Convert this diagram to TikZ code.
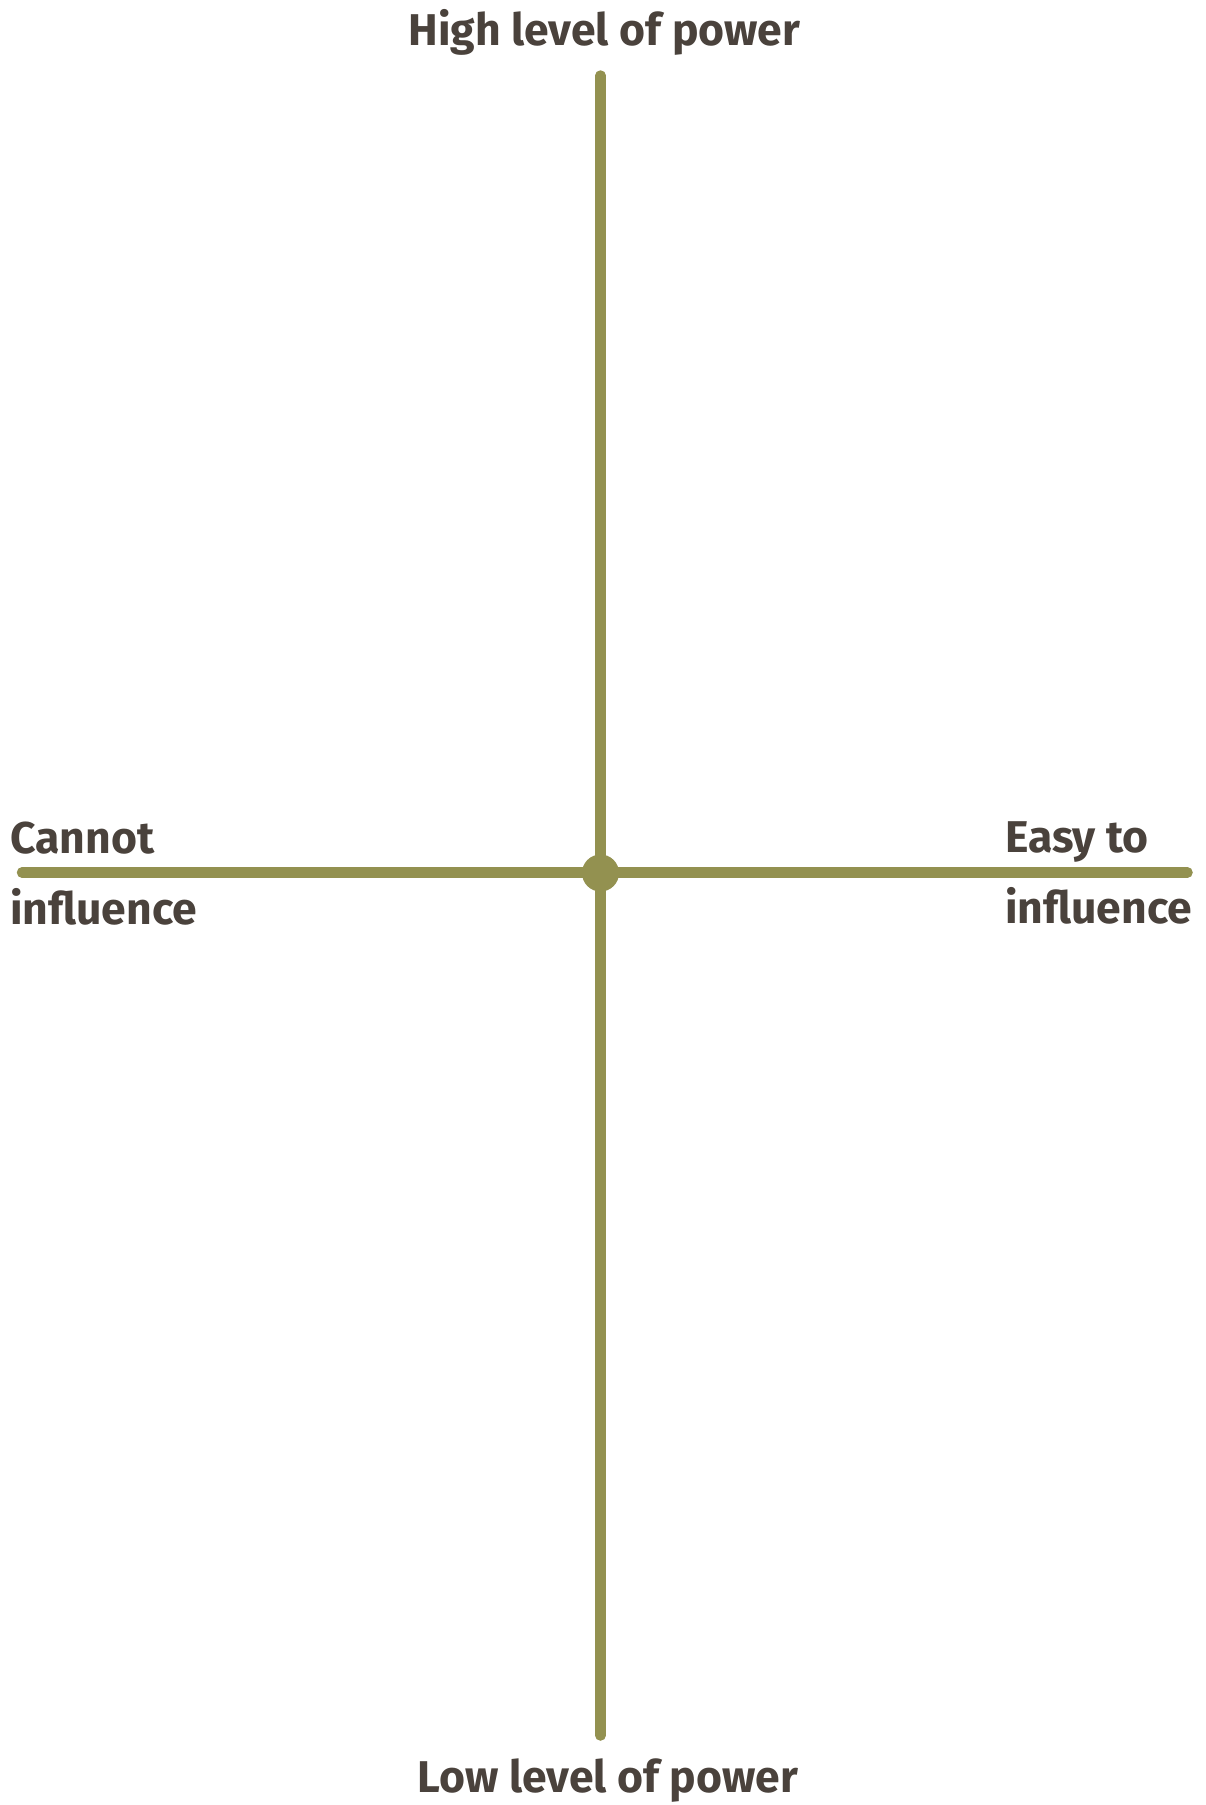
\documentclass[tikz,border=0pt]{standalone}
\usepackage{fontspec}
\setmainfont{Fira Sans}
\definecolor{olive}{HTML}{939150}
\definecolor{ink}{HTML}{4A423C}
\begin{document}
\begin{tikzpicture}[x=1pt,y=-1pt,
  axis/.style={draw=olive,line width=10.5pt,line cap=round},
  lbl/.style={inner sep=0pt,anchor=base west,text=ink,font=\fontsize{44.5}{50}\selectfont\bfseries}]
\useasboundingbox (0,0) rectangle (1206,1805);
\coordinate (top) at (600.5,75.5);
\coordinate (bottom) at (600.5,1735.5);
\coordinate (left) at (22,872.5);
\coordinate (right) at (1187.5,872.5);
\draw[axis] (top) -- (bottom);
\draw[axis] (left) -- (right);
\node[circle,fill=olive,minimum size=37pt,inner sep=0pt] (center) at (600.5,873) {};
\node[lbl,anchor=base] (high) at (604.5,45) {High level of power};
\node[lbl,anchor=base] (low) at (608,1792) {Low level of power};
\node[lbl] (cannot) at (10,853) {Cannot};
\node[lbl] (infl1) at (10,924) {influence};
\node[lbl] (easy) at (1005,852) {Easy to};
\node[lbl] (infl2) at (1005,923) {influence};
\end{tikzpicture}
\end{document}
